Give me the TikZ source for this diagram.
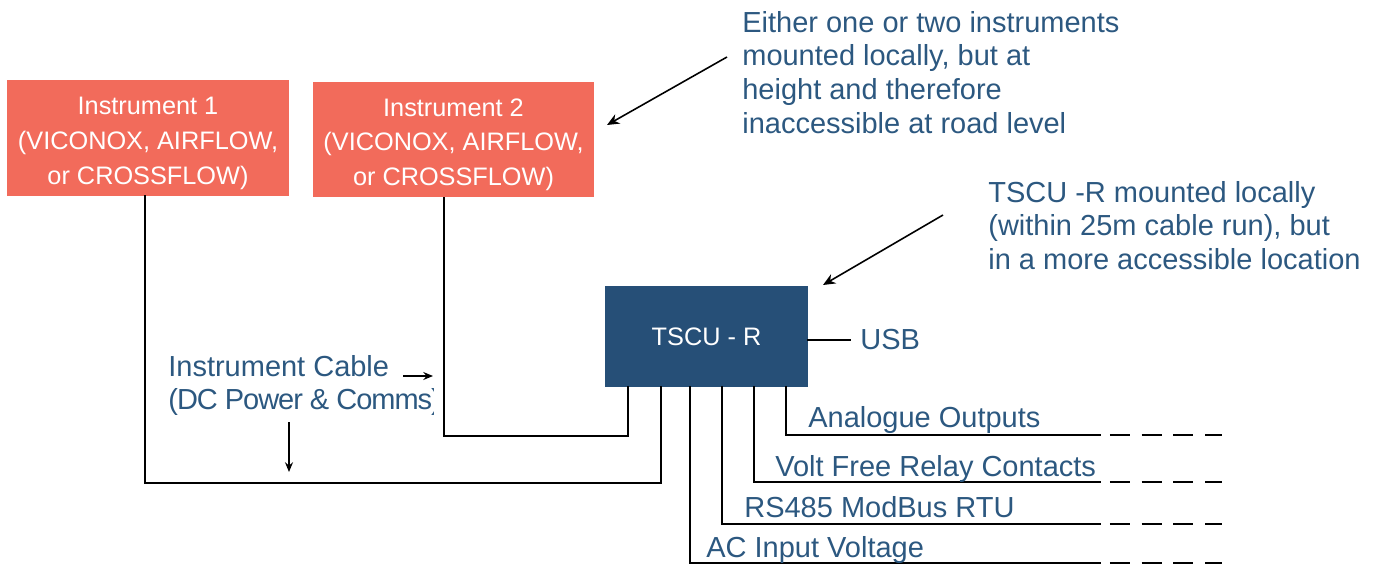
\documentclass[tikz,border=0pt]{standalone}
\usepackage{fontspec}
\setmainfont{Liberation Sans}
\usepackage{xcolor}
\usetikzlibrary{arrows.meta, positioning}

\definecolor{instred}{RGB}{242,107,91}
\definecolor{tscublue}{RGB}{38,79,119}
\definecolor{notetext}{RGB}{44,88,128}

\newcommand{\boxfont}{\fontsize{14.4}{19.8}\selectfont}
\newcommand{\notefont}{\fontsize{16.5}{19.1}\selectfont}

\tikzset{
    instbox/.style={fill=instred, text=white, inner sep=0, minimum width=5.64cm,
        minimum height=2.32cm, align=center, font=\boxfont},
    unitbox/.style={fill=tscublue, text=white, inner sep=0, minimum width=4.06cm,
        minimum height=2.02cm, font=\boxfont},
    note/.style={text=notetext, font=\notefont, inner sep=0, align=left},
    wire/.style={line width=1.15pt, line cap=rect},
    wiretail/.style={line width=1.15pt, dash pattern=on 11.3pt off 6.8pt, dash phase=12.5pt},
    pointer/.style={line width=0.9pt, -{Stealth[length=7pt, width=6pt]}},
    smallpointer/.style={line width=0.9pt, -{Stealth[length=5.5pt, width=4.5pt]}}
}

\begin{document}
\begin{tikzpicture}[x=0.02cm, y=-0.02cm]
        \useasboundingbox (0,0) rectangle (1399,568);

        \node[instbox] (inst1) at (148,138) {\rule{0pt}{16pt}Instrument 1\\(VICONOX, AIRFLOW,\\or CROSSFLOW)};
        \node[instbox] (inst2) at (453.5,139.5) {\rule{0pt}{16pt}Instrument 2\\(VICONOX, AIRFLOW,\\or CROSSFLOW)};
        \node[unitbox] (tscu) at (706.5,336.5) {TSCU - R};

        % ports along the bottom of the TSCU
        \coordinate (port2) at (628,387);
        \coordinate (port1) at (661,387);
        \coordinate (portAC) at (690,387);
        \coordinate (portRS) at (722,387);
        \coordinate (portVF) at (754,387);
        \coordinate (portAO) at (786,387);
        \coordinate (bend1) at (661,483);
        \coordinate (bend2) at (628,436);

        % instrument cables
        \draw[wire] ([xshift=-0.06cm]inst1.south) |- (bend1) -- (port1);
        \draw[wire] ([xshift=-0.19cm]inst2.south) |- (bend2) -- (port2);

        % outputs
        \coordinate (endAO) at (1100,435);
        \coordinate (endVF) at (1100,482);
        \coordinate (endRS) at (1100,524);
        \coordinate (endAC) at (1100,563);
        \coordinate (tailAO) at (1222,435);
        \coordinate (tailVF) at (1222,482);
        \coordinate (tailRS) at (1222,524);
        \coordinate (tailAC) at (1222,563);
        \draw[wire] (portAO) |- (endAO);
        \draw[wire] (portVF) |- (endVF);
        \draw[wire] (portRS) |- (endRS);
        \draw[wire] (portAC) |- (endAC);
        \draw[wiretail] (endAO) -- (tailAO);
        \draw[wiretail] (endVF) -- (tailVF);
        \draw[wiretail] (endRS) -- (tailRS);
        \draw[wiretail] (endAC) -- (tailAC);

        \node[note, anchor=base west] (lblAO) at (808,427) {Analogue Outputs};
        \node[note, anchor=base west] (lblVF) at (775,476) {Volt Free Relay Contacts};
        \node[note, anchor=base west] (lblRS) at (744,517) {RS485 ModBus RTU};
        \node[note, anchor=base west] (lblAC) at (706,557) {AC Input Voltage};

        \node[note, anchor=west] (usb) at (860,340) {USB};
        \draw[wire] (usb.west -| tscu.east) -- ([xshift=-0.2cm]usb.west);

        % annotations
        \node[note, anchor=north west] (heightNote) at (742,11)
            {Either one or two instruments\\mounted locally, but at\\height and therefore\\inaccessible at road level};
        \node[note, anchor=north west] (tscuNote) at (988,181)
            {TSCU -R mounted locally\\(within 25m cable run), but\\in a more accessible location};
        \begin{scope}
            \clip (0,300) rectangle (433,430);
            \node[note, anchor=north west] (cableNote) at (168,355)
                {Instrument Cable\\{\addfontfeature{LetterSpace=-3.5}(DC Power \& Comms)}};
        \end{scope}

        \coordinate (tailHeight) at (727,57);
        \coordinate (tipHeight) at (607,125);
        \coordinate (tailTscu) at (943,215);
        \coordinate (tipTscu) at (823,285);
        \coordinate (tailRight) at (403,376);
        \coordinate (tipRight) at (433,376);
        \coordinate (tailDown) at (289,422);
        \coordinate (tipDown) at (289,472);
        \draw[pointer] (tailHeight) -- (tipHeight);
        \draw[pointer] (tailTscu) -- (tipTscu);
        \draw[smallpointer] (tailRight) -- (tipRight);
        \draw[smallpointer] (tailDown) -- (tipDown);
    \end{tikzpicture}
\end{document}
